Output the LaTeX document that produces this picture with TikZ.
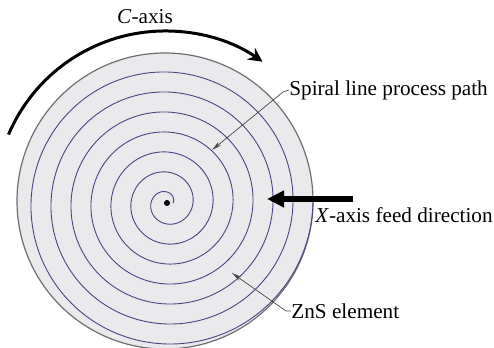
\documentclass[tikz,border=0pt]{standalone}
\usepackage{fontspec}
\setmainfont{Liberation Serif}
\usepackage{xcolor}
\usetikzlibrary{
  arrows.meta,
  positioning,
  calc
}
\definecolor{DiskGray}{RGB}{234,234,237}
\definecolor{EdgeGray}{RGB}{110,110,115}
\definecolor{PathBlue}{RGB}{70,70,130}
\definecolor{LeadGray}{RGB}{70,70,70}
\tikzset{
  %%── 工件圆盘 ───────────────────────────────────────────
  disk/.style = {
    circle, draw = EdgeGray, fill = DiskGray,
    line width = 0.6pt, minimum size = 148pt, inner sep = 0pt
  },
  spiralline/.style = {draw = PathBlue, line width = 0.45pt},
  %%── 文字标注 ───────────────────────────────────────────
  lbl/.style = {inner sep = 0pt, font = \fontsize{10.6}{12}\selectfont},
  %%── 箭头 ───────────────────────────────────────────────
  carr/.style = {-{Stealth[length=7pt, width=7pt]}, line width = 1.5pt, color = black},
  xarr/.style = {-{Triangle[length=8.5pt, width=8pt]}, line width = 2.6pt, color = black},
  lead/.style = {-{Stealth[length=5pt, width=2.2pt]}, line width = 0.35pt, color = LeadGray},
}

\begin{document}
\begin{tikzpicture}[x = 0.5pt, y = 0.5pt]
  \useasboundingbox (0,0) rectangle (494,348);

  %% ── 圆盘与螺旋路径 ───────────────────────────────────
  \node[disk] (disk) at (165,147) {};
  \coordinate (hub) at (167,145);
  \draw[spiralline, shift = {(hub)}]
    plot[smooth, samples = 500, domain = 0:2520, variable = \t]
    ({(6+\t/18)*cos(\t)}, {(6+\t/18)*sin(\t)});
  \fill (hub) circle[radius = 3];

  %% ── C 轴旋转 ─────────────────────────────────────────
  \coordinate (cstart) at ($(disk.center) + (157:170)$);
  \draw[carr] (cstart) arc[start angle = 157, end angle = 55, radius = 170];
  \node[lbl] (caxis) at (145,331) {\textit{C}-axis};

  %% ── 标注：螺旋路径 ───────────────────────────────────
  \node[lbl, anchor = west] (spiral) at (289,258) {Spiral line process path};
  \coordinate (sptip) at (212,198);
  \draw[lead] (spiral.west) -- ++(-6,-2) -- (sptip);

  %% ── X 轴进给 ─────────────────────────────────────────
  \coordinate (xstart) at (353,149);
  \coordinate (xtip) at (267,149);
  \draw[xarr] (xstart) -- (xtip);
  \node[lbl, anchor = west] (xaxis) at (315,133) {\textit{X}-axis feed direction};

  %% ── 标注：ZnS 元件 ───────────────────────────────────
  \node[lbl, anchor = west] (zns) at (291,37) {ZnS element};
  \coordinate (zntip) at (232,75);
  \draw[lead] (zns.west) -- ++(-5,0) -- (zntip);

\end{tikzpicture}
\end{document}
